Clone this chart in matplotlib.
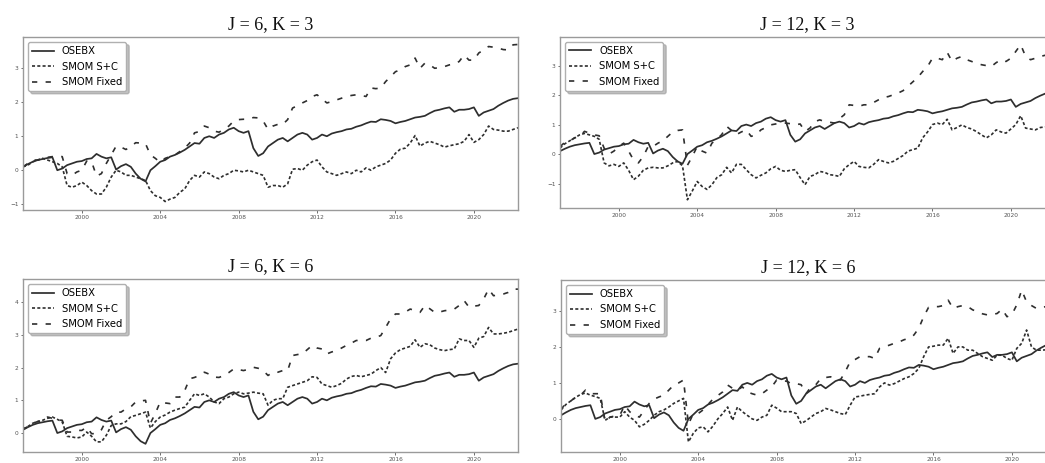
import numpy as np
import matplotlib
matplotlib.use("Agg")
import matplotlib.pyplot as plt

# Quarterly observations, starting January 1997
start_year = 1997
year_ticks = [2000, 2004, 2008, 2012, 2016, 2020]

osebx = [
    0.10, 0.18, 0.25, 0.30,   # 1997
    0.33, 0.36, 0.38, 0.00,   # 1998
    0.05, 0.15, 0.20, 0.25,   # 1999
    0.27, 0.33, 0.35, 0.48,   # 2000
    0.40, 0.35, 0.38, 0.02,   # 2001
    0.12, 0.18, 0.10, -0.10,  # 2002
    -0.25, -0.33, 0.00, 0.12, # 2003
    0.25, 0.30, 0.40, 0.45,   # 2004
    0.52, 0.60, 0.70, 0.80,   # 2005
    0.78, 0.95, 1.00, 0.95,   # 2006
    1.05, 1.10, 1.20, 1.25,   # 2007
    1.15, 1.10, 1.15, 0.65,   # 2008
    0.42, 0.50, 0.70, 0.80,   # 2009
    0.90, 0.95, 0.85, 0.95,   # 2010
    1.05, 1.10, 1.05, 0.90,   # 2011
    0.95, 1.05, 1.00, 1.08,   # 2012
    1.12, 1.15, 1.20, 1.22,   # 2013
    1.28, 1.32, 1.38, 1.43,   # 2014
    1.42, 1.50, 1.48, 1.45,   # 2015
    1.38, 1.42, 1.45, 1.50,   # 2016
    1.55, 1.57, 1.60, 1.68,   # 2017
    1.75, 1.78, 1.82, 1.85,   # 2018
    1.72, 1.78, 1.78, 1.80,   # 2019
    1.85, 1.60, 1.70, 1.75,   # 2020
    1.80, 1.90, 1.98, 2.05,   # 2021
    2.10, 2.12,               # 2022
]

# J = 6, K = 3
sc_j6_k3 = [
    0.10, 0.15, 0.25, 0.30,
    0.35, 0.30, 0.25, 0.20,
    0.10, -0.45, -0.50, -0.45,
    -0.35, -0.45, -0.60, -0.70,
    -0.70, -0.50, -0.20, 0.00,
    -0.05, -0.15, -0.15, -0.20,
    -0.25, -0.30, -0.60, -0.75,
    -0.80, -0.92, -0.85, -0.80,
    -0.65, -0.55, -0.30, -0.15,
    -0.20, -0.05, -0.10, -0.20,
    -0.25, -0.15, -0.10, 0.00,
    -0.02, -0.05, 0.00, -0.05,
    -0.10, -0.15, -0.50, -0.45,
    -0.45, -0.50, -0.40, 0.03,
    0.05, 0.00, 0.15, 0.25,
    0.30, 0.10, -0.05, -0.10,
    -0.15, -0.10, -0.05, -0.10,
    0.00, -0.05, 0.07, 0.00,
    0.10, 0.15, 0.20, 0.30,
    0.50, 0.62, 0.65, 0.80,
    1.02, 0.71, 0.80, 0.85,
    0.80, 0.75, 0.68, 0.72,
    0.75, 0.78, 0.85, 1.05,
    0.82, 0.90, 1.05, 1.30,
    1.20, 1.18, 1.15, 1.15,
    1.20, 1.25,
]
fixed_j6_k3 = [
    0.10, 0.20, 0.30, 0.30,
    0.35, 0.38, 0.40, 0.42,
    0.40, -0.10, -0.15, -0.05,
    0.00, 0.27, 0.25, -0.17,
    -0.10, 0.20, 0.45, 0.71,
    0.68, 0.61, 0.70, 0.81,
    0.80, 0.78, 0.45, 0.35,
    0.23, 0.35, 0.40, 0.45,
    0.55, 0.65, 0.80, 1.10,
    1.14, 1.30, 1.25, 1.15,
    1.12, 1.20, 1.30, 1.45,
    1.49, 1.50, 1.50, 1.55,
    1.54, 1.45, 1.20, 1.30,
    1.35, 1.35, 1.49, 1.83,
    1.90, 1.98, 2.05, 2.17,
    2.22, 2.10, 1.98, 2.02,
    2.07, 2.12, 2.17, 2.20,
    2.22, 2.20, 2.17, 2.42,
    2.40, 2.42, 2.61, 2.75,
    2.90, 2.95, 3.05, 3.10,
    3.30, 3.00, 3.15, 3.10,
    3.00, 3.02, 3.05, 3.10,
    3.12, 3.20, 3.39, 3.24,
    3.24, 3.45, 3.54, 3.64,
    3.62, 3.59, 3.55, 3.54,
    3.69, 3.70,
]

# J = 12, K = 3
sc_j12_k3 = [
    0.20, 0.35, 0.45, 0.55,
    0.65, 0.70, 0.65, 0.60,
    0.50, -0.30, -0.40, -0.35,
    -0.42, -0.30, -0.55, -0.87,
    -0.75, -0.55, -0.47, -0.45,
    -0.47, -0.47, -0.40, -0.30,
    -0.25, -0.40, -1.55, -1.25,
    -0.93, -1.10, -1.20, -1.04,
    -0.80, -0.70, -0.45, -0.64,
    -0.35, -0.35, -0.53, -0.70,
    -0.81, -0.72, -0.64, -0.50,
    -0.42, -0.55, -0.59, -0.55,
    -0.53, -0.80, -1.04, -0.76,
    -0.70, -0.59, -0.62, -0.70,
    -0.72, -0.76, -0.50, -0.36,
    -0.25, -0.42, -0.45, -0.47,
    -0.35, -0.19, -0.25, -0.30,
    -0.25, -0.15, -0.05, 0.10,
    0.15, 0.20, 0.55, 0.75,
    1.00, 1.05, 1.00, 1.18,
    0.82, 0.90, 0.99, 0.90,
    0.85, 0.76, 0.65, 0.55,
    0.65, 0.82, 0.75, 0.71,
    0.85, 1.00, 1.30, 0.88,
    0.85, 0.82, 0.90, 0.92,
    0.93, 0.95,
]
fixed_j12_k3 = [
    0.25, 0.40, 0.45, 0.55,
    0.60, 0.77, 0.71, 0.65,
    0.62, 0.20, 0.00, 0.10,
    0.26, 0.37, 0.10, -0.20,
    -0.30, -0.08, 0.26, 0.26,
    0.37, 0.45, 0.60, 0.75,
    0.80, 0.82, -0.38, -0.08,
    0.26, 0.10, 0.03, 0.37,
    0.50, 0.66, 0.94, 0.80,
    0.66, 0.75, 0.82, 0.60,
    0.65, 0.82, 0.90, 0.99,
    1.02, 1.05, 1.05, 1.03,
    0.99, 1.02, 0.77, 0.88,
    1.10, 1.16, 1.10, 1.08,
    1.05, 1.20, 1.33, 1.67,
    1.65, 1.62, 1.67, 1.67,
    1.75, 1.84, 1.92, 1.95,
    2.01, 2.07, 2.15, 2.30,
    2.45, 2.60, 2.80, 2.97,
    3.25, 3.25, 3.20, 3.45,
    3.14, 3.25, 3.31, 3.20,
    3.14, 3.08, 3.03, 3.00,
    2.97, 3.10, 3.20, 3.14,
    3.25, 3.48, 3.71, 3.31,
    3.20, 3.25, 3.31, 3.35,
    3.38, 3.40,
]

# J = 6, K = 6
sc_j6_k6 = [
    0.13, 0.20, 0.30, 0.35,
    0.39, 0.45, 0.49, 0.42,
    0.34, -0.10, -0.12, -0.15,
    -0.12, 0.03, -0.10, -0.27,
    -0.27, -0.07, 0.23, 0.28,
    0.28, 0.35, 0.50, 0.54,
    0.59, 0.64, 0.15, 0.35,
    0.49, 0.55, 0.64, 0.70,
    0.75, 0.79, 1.00, 1.20,
    1.15, 1.20, 1.10, 0.95,
    0.90, 1.05, 1.10, 1.20,
    1.25, 1.20, 1.22, 1.25,
    1.22, 1.20, 0.85, 1.00,
    1.05, 1.05, 1.40, 1.45,
    1.50, 1.55, 1.60, 1.72,
    1.70, 1.50, 1.45, 1.40,
    1.45, 1.52, 1.65, 1.73,
    1.76, 1.72, 1.76, 1.80,
    1.91, 2.00, 1.85, 2.27,
    2.45, 2.55, 2.60, 2.65,
    2.85, 2.62, 2.73, 2.70,
    2.60, 2.55, 2.52, 2.55,
    2.57, 2.88, 2.83, 2.83,
    2.62, 2.90, 2.95, 3.23,
    3.03, 3.03, 3.05, 3.08,
    3.13, 3.18,
]
fixed_j6_k6 = [
    0.10, 0.20, 0.30, 0.35,
    0.40, 0.49, 0.45, 0.40,
    0.39, 0.03, 0.03, 0.08,
    0.08, 0.18, -0.02, -0.02,
    0.10, 0.39, 0.50, 0.64,
    0.64, 0.74, 0.80, 0.95,
    0.98, 1.00, 0.30, 0.60,
    0.95, 0.92, 0.90, 1.10,
    1.10, 1.30, 1.66, 1.70,
    1.76, 1.86, 1.80, 1.71,
    1.70, 1.76, 1.85, 1.96,
    1.94, 1.91, 1.95, 2.01,
    1.98, 1.91, 1.76, 1.86,
    1.86, 1.91, 1.91, 2.37,
    2.40, 2.42, 2.55, 2.68,
    2.60, 2.57, 2.42, 2.48,
    2.52, 2.60, 2.68, 2.75,
    2.83, 2.83, 2.83, 2.90,
    2.93, 2.98, 3.23, 3.49,
    3.64, 3.64, 3.70, 3.79,
    3.75, 3.69, 3.90, 3.80,
    3.69, 3.70, 3.74, 3.76,
    3.79, 3.90, 4.05, 3.85,
    3.88, 3.90, 4.10, 4.40,
    4.20, 4.22, 4.25, 4.30,
    4.40, 4.40,
]

# J = 12, K = 6
sc_j12_k6 = [
    0.25, 0.40, 0.50, 0.60,
    0.68, 0.72, 0.66, 0.62,
    0.57, -0.04, 0.05, 0.05,
    0.05, 0.20, 0.05, -0.04,
    -0.22, -0.15, -0.04, 0.10,
    0.20, 0.25, 0.33, 0.43,
    0.50, 0.57, -0.64, -0.40,
    -0.25, -0.22, -0.36, -0.20,
    0.00, 0.15, 0.33, -0.04,
    0.33, 0.20, 0.10, 0.00,
    -0.04, 0.05, 0.10, 0.38,
    0.30, 0.20, 0.20, 0.20,
    0.15, -0.13, -0.05, 0.05,
    0.15, 0.20, 0.29, 0.25,
    0.20, 0.15, 0.12, 0.38,
    0.61, 0.63, 0.66, 0.68,
    0.70, 0.89, 1.00, 0.94,
    0.98, 1.05, 1.12, 1.17,
    1.26, 1.40, 1.73, 2.00,
    2.02, 2.05, 2.05, 2.24,
    1.82, 2.00, 2.00, 1.91,
    1.91, 1.82, 1.73, 1.68,
    1.63, 1.77, 1.77, 1.68,
    1.63, 1.96, 2.10, 2.47,
    2.00, 1.91, 1.91, 1.92,
    1.95, 1.95,
]
fixed_j12_k6 = [
    0.25, 0.45, 0.50, 0.60,
    0.66, 0.80, 0.70, 0.70,
    0.70, -0.08, 0.05, 0.08,
    0.10, 0.38, 0.20, 0.10,
    0.05, 0.24, 0.43, 0.55,
    0.61, 0.66, 0.80, 0.94,
    1.00, 1.08, -0.15, 0.15,
    0.15, 0.25, 0.40, 0.55,
    0.65, 0.75, 0.94, 0.85,
    0.80, 0.89, 0.75, 0.70,
    0.66, 0.70, 0.80, 0.89,
    1.08, 1.05, 1.05, 0.98,
    0.98, 0.95, 0.70, 0.89,
    0.95, 1.12, 1.15, 1.17,
    1.10, 1.08, 1.31, 1.59,
    1.65, 1.73, 1.73, 1.73,
    1.68, 1.96, 2.00, 2.05,
    2.10, 2.14, 2.20, 2.24,
    2.33, 2.52, 2.84, 3.10,
    3.12, 3.12, 3.15, 3.30,
    3.07, 3.12, 3.15, 3.12,
    3.03, 2.98, 2.92, 2.89,
    2.90, 2.93, 3.05, 2.84,
    2.90, 3.17, 3.58, 3.25,
    3.15, 3.07, 3.10, 3.12,
    3.10, 3.10,
]

panels = [
    ("J = 6, K = 3", sc_j6_k3, fixed_j6_k3),
    ("J = 12, K = 3", sc_j12_k3, fixed_j12_k3),
    ("J = 6, K = 6", sc_j6_k6, fixed_j6_k6),
    ("J = 12, K = 6", sc_j12_k6, fixed_j12_k6),
]

# ---- figure layout (pixel boxes: left, top, right, bottom) ----
W, H = 1045, 463
boxes = [(23, 37, 518, 210), (560, 37, 1055, 208),
         (23, 279, 518, 452), (561, 280, 1056, 452)]
ylims = [(-1.17, 3.92), (-1.83, 3.97), (-0.58, 4.71), (-0.92, 3.86)]
yticks = [[-1, 0, 1, 2, 3], [-1, 0, 1, 2, 3], [0, 1, 2, 3, 4], [0, 1, 2, 3]]

plt.rcParams["lines.scale_dashes"] = False
line_color = "#2e2e2e"

fig = plt.figure(figsize=(W / 100, H / 100), dpi=100)
fig.patch.set_facecolor("white")

n = len(osebx)
t = start_year + np.arange(n) / 4.0

for (title, sc, fx), (l, tp, r, b), yl, yt in zip(panels, boxes, ylims, yticks):
    ax = fig.add_axes([l / W, 1 - b / H, (r - l) / W, (b - tp) / H])
    ax.plot(t, osebx, color=line_color, lw=1.25, label="OSEBX")
    ax.plot(t, sc, color=line_color, lw=1.2, dashes=(2.2, 1.6), label="SMOM S+C")
    ax.plot(t, fx, color=line_color, lw=1.2, dashes=(3.8, 6.0), label="SMOM Fixed")

    ax.set_xlim(t[0], t[-1])
    ax.set_ylim(*yl)
    ax.set_xticks(year_ticks)
    ax.set_xticklabels([str(y) for y in year_ticks])
    ax.set_yticks(yt)
    ax.tick_params(labelsize=4.2, colors="#555555", length=1.8, width=0.6, pad=1.5)
    for sp in ax.spines.values():
        sp.set_color("#9a9a9a")
        sp.set_linewidth(1.0)

    ax.set_title(title, fontsize=13, family="Liberation Serif", pad=5.5, color="#111111")
    leg = ax.legend(loc="upper left", fontsize=7.2, fancybox=True,
                    shadow={"color": "#9a9a9a", "alpha": 0.6},
                    labelspacing=0.55, handlelength=2.2, borderaxespad=0.5)
    leg.get_frame().set_edgecolor("#b0b0b0")

fig.savefig("out.png", dpi=100, facecolor="white")
